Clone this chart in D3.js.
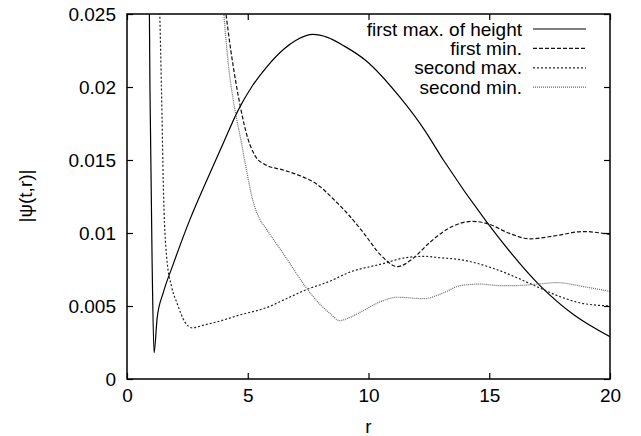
<!DOCTYPE html>
<html>
<head>
<meta charset="utf-8">
<script src="https://cdn.jsdelivr.net/npm/d3@7"></script>
<style>
  body { margin: 0; background: #fff; }
  text { font-family: "Liberation Sans", Arial, sans-serif; fill: #000; }
</style>
</head>
<body>
<script>
// values, r against |psi(t,r)|
var firstMaxR = [0.86, 0.95, 1.04, 1.12, 1.25, 1.5, 1.9, 2.6, 3.3, 4.0, 4.6, 5.2, 5.8, 6.5, 7.0, 7.7, 8.3, 9.0, 9.9, 11.3, 12.3, 13.1, 14.9, 17.1, 18.5, 20];
var firstMaxV = [0.04, 0.02, 0.008, 0.0018, 0.0042, 0.0059, 0.0078, 0.0109, 0.0136, 0.0162, 0.0184, 0.0201, 0.0214, 0.0226, 0.0232, 0.0236, 0.0234, 0.0228, 0.0218, 0.0193, 0.0171, 0.0150, 0.01075, 0.0064, 0.0044, 0.0029];

var firstMinR = [3.95, 4.3, 4.7, 5.0, 5.3, 5.7, 6.5, 7.2, 7.9, 8.5, 9.2, 9.8, 10.5, 11.2, 11.8, 12.5, 13.3, 14.3, 15.0, 15.8, 16.7, 17.7, 18.9, 20];
var firstMinV = [0.027, 0.0225, 0.0186, 0.0165, 0.0153, 0.0147, 0.0143, 0.0139, 0.0133, 0.0124, 0.0112, 0.0100, 0.0085, 0.0077, 0.0082, 0.0093, 0.0103, 0.0108, 0.0106, 0.0100, 0.0096, 0.0098, 0.0101, 0.0099];

var secondMaxR = [1.33, 1.45, 1.5, 1.64, 1.85, 2.07, 2.4, 2.7, 3.2, 3.7, 4.7, 5.8, 6.6, 7.4, 8.4, 9.2, 10.6, 11.5, 12.3, 13.0, 13.7, 15.3, 16.2, 17.0, 18.0, 18.8, 20];
var secondMaxV = [0.027, 0.018, 0.0136, 0.0084, 0.0063, 0.0052, 0.0039, 0.0035, 0.0037, 0.0039, 0.0044, 0.0049, 0.0055, 0.0061, 0.0067, 0.0073, 0.0079, 0.0083, 0.0084, 0.0083, 0.0082, 0.0075, 0.0069, 0.0063, 0.0056, 0.0052, 0.0050];

var secondMinR = [3.92, 4.2, 4.4, 4.7, 4.95, 5.2, 5.4, 5.8, 6.3, 6.75, 7.4, 8.0, 8.4, 8.8, 9.2, 9.8, 10.5, 11.2, 12.3, 13.1, 13.8, 14.6, 15.4, 16.1, 17.0, 17.8, 19.0, 20];
var secondMinV = [0.027, 0.0215, 0.0191, 0.0165, 0.0143, 0.0123, 0.0113, 0.0102, 0.0090, 0.0079, 0.0063, 0.0051, 0.0045, 0.0040, 0.0042, 0.0047, 0.0053, 0.0056, 0.0055, 0.0059, 0.0064, 0.0065, 0.0064, 0.0064, 0.0065, 0.0066, 0.0063, 0.0060];

var seriesNames = ["first max. of height", "first min.", "second max.", "second min."];
var xTicks = [0, 5, 10, 15, 20];
var yTicks = [0, 0.005, 0.01, 0.015, 0.02, 0.025];
var yTickLabels = ["0", "0.005", "0.01", "0.015", "0.02", "0.025"];

var w = 641, h = 436;
var mLeft = 127, mRight = 610, mTop = 14, mBottom = 379;
var fontSize = "19px";

var svg = d3.select("body").append("svg")
    .attr("width", w)
    .attr("height", h);

var x = d3.scaleLinear().domain([0, 20]).range([mLeft, mRight]);
var y = d3.scaleLinear().domain([0, 0.025]).range([mBottom, mTop]);

// line styles for each series
var dashes = [null, "4,2", "2,2", "1,1"];
var colours = ["#000", "#111", "#222", "#666"];

var series = [
  d3.zip(firstMaxR, firstMaxV),
  d3.zip(firstMinR, firstMinV),
  d3.zip(secondMaxR, secondMaxV),
  d3.zip(secondMinR, secondMinV)
];

svg.append("clipPath").attr("id", "plot")
   .append("rect")
   .attr("x", mLeft).attr("y", mTop)
   .attr("width", mRight - mLeft).attr("height", mBottom - mTop);

var line = d3.line()
    .x(function (d) { return x(d[0]); })
    .y(function (d) { return y(d[1]); })
    .curve(d3.curveMonotoneX);

svg.append("g").attr("clip-path", "url(#plot)")
   .selectAll("path")
   .data(series)
   .enter()
   .append("path")
   .attr("d", line)
   .attr("fill", "none")
   .attr("stroke", function (d, i) { return colours[i]; })
   .attr("stroke-width", 1.2)
   .attr("stroke-dasharray", function (d, i) { return dashes[i]; });

// axes: ticks point inwards on all four sides (gnuplot style)
var tickLen = 6;
var bottomAxis = d3.axisBottom(x).tickValues(xTicks).tickSize(-tickLen).tickPadding(10).tickFormat(d3.format("d"));
var topAxis = d3.axisTop(x).tickValues(xTicks).tickSize(-tickLen).tickFormat("");
var leftAxis = d3.axisLeft(y).tickValues(yTicks).tickSize(-tickLen).tickPadding(11)
    .tickFormat(function (d, i) { return yTickLabels[i]; });
var rightAxis = d3.axisRight(y).tickValues(yTicks).tickSize(-tickLen).tickFormat("");

function style(g) {
  g.select(".domain").remove();
  g.selectAll("line").attr("stroke", "#000").attr("stroke-width", 1.2);
  g.selectAll("text").attr("font-size", fontSize).attr("font-family", "Liberation Sans, Arial, sans-serif");
}

svg.append("g").attr("transform", "translate(0," + mBottom + ")").call(bottomAxis).call(style);
svg.append("g").attr("transform", "translate(0," + mTop + ")").call(topAxis).call(style);
svg.append("g").attr("transform", "translate(" + mLeft + ",0)").call(leftAxis).call(style);
svg.append("g").attr("transform", "translate(" + mRight + ",0)").call(rightAxis).call(style);

svg.append("rect")
   .attr("x", mLeft).attr("y", mTop)
   .attr("width", mRight - mLeft).attr("height", mBottom - mTop)
   .attr("fill", "none")
   .attr("stroke", "#000")
   .attr("stroke-width", 1.5);

// axis titles
svg.append("text")
   .attr("x", (mLeft + mRight) / 2)
   .attr("y", 433)
   .attr("text-anchor", "middle")
   .attr("font-size", fontSize)
   .text("r");

svg.append("text")
   .attr("transform", "translate(32,196) rotate(-90)")
   .attr("text-anchor", "middle")
   .attr("font-size", fontSize)
   .text("|\u03c8(t,r)|");

// legend, top right inside the frame
var legend = svg.selectAll(".legend")
   .data(seriesNames)
   .enter()
   .append("g")
   .attr("class", "legend")
   .attr("transform", function (d, i) { return "translate(0," + (29 + i * 19.4) + ")"; });

legend.append("text")
   .attr("x", 522)
   .attr("dy", "0.35em")
   .attr("text-anchor", "end")
   .attr("font-size", fontSize)
   .text(function (d) { return d; });

legend.append("line")
   .attr("x1", 533).attr("x2", 586)
   .attr("stroke", function (d, i) { return colours[i]; })
   .attr("stroke-width", 1.2)
   .attr("stroke-dasharray", function (d, i) { return dashes[i]; });
</script>
</body>
</html>
